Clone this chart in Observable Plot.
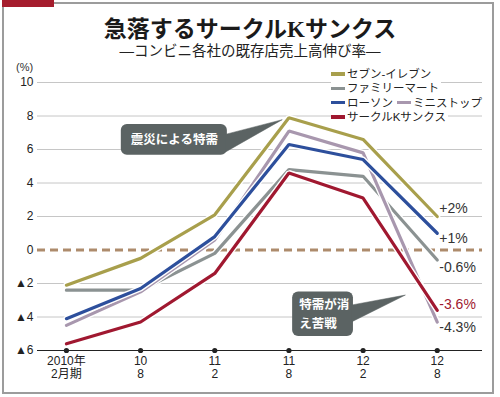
<!DOCTYPE html>
<html><head><meta charset="utf-8">
<script src="https://cdn.jsdelivr.net/npm/d3@7"></script>
<script src="https://cdn.jsdelivr.net/npm/@observablehq/plot@0.6"></script>
<style>
body{margin:0;background:#fff;}
#wrap{position:relative;width:500px;height:397px;overflow:hidden;background:#fff;font-family:"Liberation Sans","Noto Sans CJK JP",sans-serif;color:#222;}
#chart{position:absolute;left:0;top:0;}
#frame{position:absolute;left:2px;top:2px;width:488px;height:388px;border:2px solid #9c9c9c;}
#redbar{position:absolute;left:2px;top:0px;width:52px;height:7px;background:#a51d2d;}
#title{position:absolute;left:0;width:500px;top:17px;height:25.5px;text-align:center;font-family:"Liberation Serif","Noto Sans CJK JP",serif;font-size:23px;font-weight:700;line-height:25.5px;color:#1a1a1a;}
#subtitle{position:absolute;left:0;width:500px;top:42.7px;height:16.2px;text-align:center;font-size:14.5px;line-height:16.2px;color:#222;}
#unit{position:absolute;left:16px;top:61px;font-size:11px;line-height:13px;color:#333;}
#legend{position:absolute;left:331px;top:68px;font-size:11.5px;line-height:13px;}
#legend .row{white-space:nowrap;height:14.3px;}
#legend .item{display:inline-block;background:#fff;padding-right:2px;height:13px;line-height:13px;vertical-align:top;}
#legend .sw{display:inline-block;width:14px;height:3.5px;vertical-align:middle;margin-right:2px;position:relative;top:-1px;}
</style>
</head><body>
<div id="wrap">
  <div id="chart"></div>
  <div id="frame"></div>
  <div id="redbar"></div>
  <div id="title">急落するサークルKサンクス</div>
  <div id="subtitle">―コンビニ各社の既存店売上高伸び率―</div>
  <div id="unit">(%)</div>
  <div id="legend"></div>
</div>
<script>
// ---- data ----
const periods = ["2010年\n2月期", "10\n8", "11\n2", "11\n8", "12\n2", "12\n8"];
const seriesNames = ["セブン-イレブン", "ファミリーマート", "ミニストップ", "ローソン", "サークルKサンクス"];
const seriesColors = ["#a89f4c", "#8b9292", "#a897ae", "#2d4f9c", "#a01830"];
const sevenEleven = [-2.1, -0.5, 2.1, 7.9, 6.6, 2.0];
const familyMart  = [-2.4, -2.4, -0.2, 4.8, 4.4, -0.6];
const ministop    = [-4.5, -2.5, 0.6, 7.1, 5.8, -4.3];
const lawson      = [-4.1, -2.3, 0.8, 6.3, 5.4, 1.0];
const circleK     = [-5.6, -4.3, -1.4, 4.6, 3.1, -3.6];
const seriesValues = [sevenEleven, familyMart, ministop, lawson, circleK];
const yTicks = [-6, -4, -2, 0, 2, 4, 6, 8, 10];
const endLabels = ["+2%", "+1%", "-0.6%", "-3.6%", "-4.3%"];
const endLabelY = [2.45, 0.66, -1.04, -3.28, -4.63];
const endLabelColors = ["#333", "#333", "#333", "#a01830", "#333"];
const callout1Text = ["震災による特需"];
const callout2Text = ["特需が消", "え苦戦"];

// ---- legend (HTML) ----
const legendRows = [[0], [1], [3, 2], [4]];
const legend = document.getElementById("legend");
legendRows.forEach(r => {
  const row = document.createElement("div");
  row.className = "row";
  r.forEach((k, j) => {
    const it = document.createElement("span");
    it.className = "item";
    if (j > 0) it.style.marginLeft = "2px";
    it.innerHTML = `<span class="sw" style="background:${seriesColors[k]}"></span>${seriesNames[k]}`;
    row.appendChild(it);
  });
  legend.appendChild(row);
});

// ---- chart ----
const idx = periods.map((_, i) => i);
const yMin = yTicks[0];
const lineMarks = [];
seriesValues.forEach((vals, k) => {
  const pts = vals.map((v, i) => ({i, v}));
  lineMarks.push(Plot.line(pts, {x: "i", y: "v", stroke: "#fff", strokeWidth: 6, strokeLinejoin: "miter"}));
  lineMarks.push(Plot.line(pts, {x: "i", y: "v", stroke: seriesColors[k], strokeWidth: 3.2, strokeLinejoin: "miter"}));
});
const endData = endLabels.map((t, j) => ({t, y: endLabelY[j], c: endLabelColors[j]}));

const calloutFill = "#5b6363";
const box1 = [{x1: 0.74, x2: 2.17, y1: 5.66, y2: 7.49}];
const ptr1 = [{x: 2.14, y: 6.9}, {x: 2.91, y: 7.78}, {x: 2.14, y: 5.84}];
const box2 = [{x1: 3.05, x2: 3.87, y1: -5.16, y2: -2.51}];
const ptr2 = [{x: 3.85, y: -3.28}, {x: 4.57, y: -2.69}, {x: 3.85, y: -4.28}];
const c1Pos = [{x: 1.455, y: 6.58}];
const c2Pos = [{x: 3.14, y: -3.3}, {x: 3.14, y: -4.42}];

const chart = Plot.plot({
  width: 500, height: 397,
  marginTop: 82, marginBottom: 47, marginLeft: 37, marginRight: 18,
  x: {type: "linear", domain: [-0.39, 5.61], axis: null},
  y: {domain: [yMin, 10], axis: null},
  style: {fontFamily: "'Liberation Sans', Arial, 'Noto Sans CJK JP', sans-serif", fontSize: "12px", background: "transparent", color: "#222"},
  marks: [
    Plot.ruleY(yTicks.filter(t => t !== 0 && t !== yMin), {stroke: "#c6c6c6", strokeWidth: 1}),
    Plot.ruleY([0], {stroke: "#ad8b6c", strokeWidth: 3, strokeDasharray: "8,5"}),
    Plot.ruleY([yMin], {stroke: "#222", strokeWidth: 1.2}),
    Plot.axisY({ticks: yTicks, tickSize: 0, tickPadding: 4, fontSize: 12, label: null,
      tickFormat: d => d < 0 ? "▲" + (-d) : String(d)}),
    Plot.dot(idx, {x: d => d, y: () => yMin, r: 2.6, fill: "#222", stroke: "none"}),
    Plot.text(idx, {x: d => d, y: () => yMin, text: d => periods[d], lineAnchor: "top", dy: 5, fontSize: 12, lineHeight: 1.08, fill: "#222"}),
    Plot.rect(box1, {x1: "x1", x2: "x2", y1: "y1", y2: "y2", fill: calloutFill, rx: 6}),
    Plot.line(ptr1, {x: "x", y: "y", fill: calloutFill, stroke: calloutFill, strokeWidth: 0.5}),
    Plot.rect(box2, {x1: "x1", x2: "x2", y1: "y1", y2: "y2", fill: calloutFill, rx: 6}),
    Plot.line(ptr2, {x: "x", y: "y", fill: calloutFill, stroke: calloutFill, strokeWidth: 0.5}),
    ...lineMarks,
    Plot.text(callout1Text, {x: (d, i) => c1Pos[i].x, y: (d, i) => c1Pos[i].y, text: d => d, fill: "#fff", fontSize: 12.5, fontWeight: "bold", fontFamily: "'Noto Sans CJK JP', sans-serif"}),
    Plot.text(callout2Text, {x: (d, i) => c2Pos[i].x, y: (d, i) => c2Pos[i].y, text: d => d, fill: "#fff", fontSize: 12.5, fontWeight: "bold", textAnchor: "start", fontFamily: "'Noto Sans CJK JP', sans-serif"}),
    Plot.text(endData, {x: () => 5, y: "y", text: "t", fill: "c", textAnchor: "start", dx: 2, fontSize: 14})
  ]
});
document.getElementById("chart").appendChild(chart);
</script>
</body></html>
